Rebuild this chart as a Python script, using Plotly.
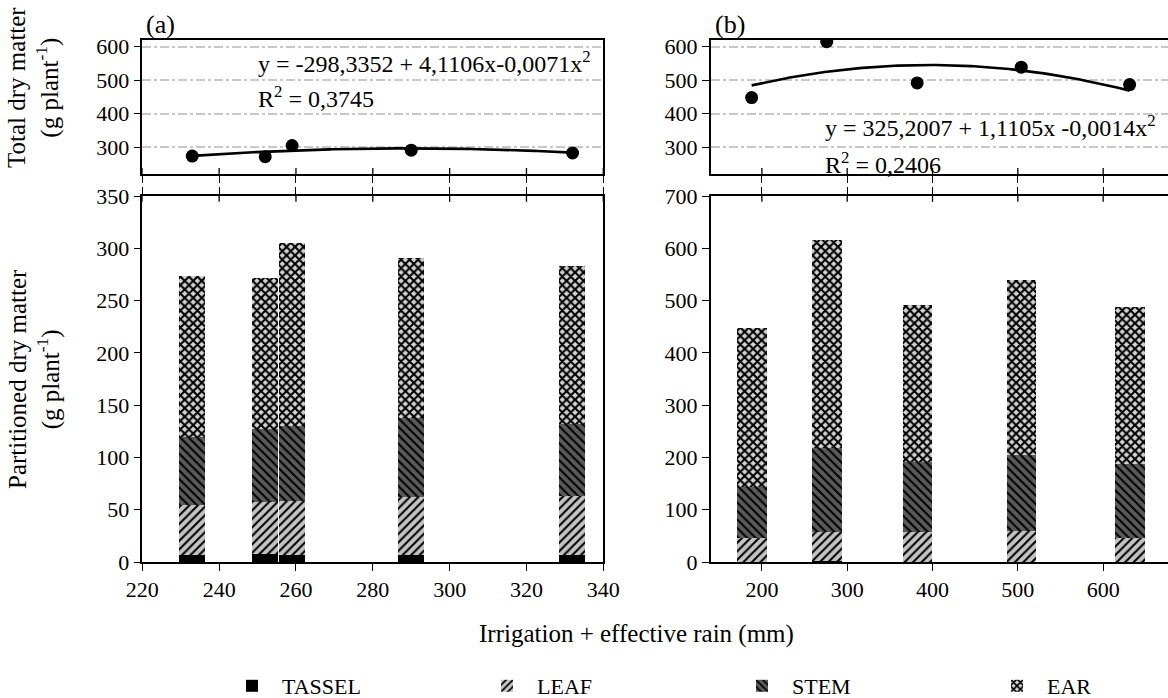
import numpy as np
import plotly.graph_objects as go

# ---------------- data ----------------
SERIES = ["TASSEL", "LEAF", "STEM", "EAR"]

# (a) panel
X_A = [233, 252, 259, 290, 332]
TASSEL_A = [6.4, 7.3, 6.4, 6.4, 6.4]
LEAF_A = [47.8, 50.1, 51.6, 55.8, 56.7]
STEM_A = [65.3, 70.1, 71.7, 75.5, 69.2]
EAR_A = [154.0, 144.1, 175.3, 153.3, 150.4]
TOTAL_A = [273.5, 271.6, 305.0, 291.0, 282.7]
COEF_A = [-298.3352, 4.1106, -0.0071]

# (b) panel
X_B = [188, 276, 382, 504, 631]
TASSEL_B = [0.0, 2.5, 0.0, 0.0, 0.0]
LEAF_B = [46.5, 54.9, 57.4, 59.3, 46.5]
STEM_B = [96.9, 161.3, 133.9, 144.7, 141.5]
EAR_B = [304.8, 396.5, 300.9, 335.3, 299.7]
TOTAL_B = [448.0, 615.0, 492.0, 539.0, 487.0]
COEF_B = [325.2007, 1.1105, -0.0014]

TICKS_A = [220, 240, 260, 280, 300, 320, 340]
TICKS_B = [200, 300, 400, 500, 600]
TOP_TICKS = [300, 400, 500, 600]

# ---------------- styles ----------------
FONT = "Liberation Serif"
W, H = 1168, 698
STYLE = {
    "TASSEL": dict(color="#000000", shape="", fg="#000000", size=6, sol=0.3),
    "LEAF": dict(color="#c4c4c4", shape="/", fg="#000000", size=6, sol=0.35),
    "STEM": dict(color="#5a5a5a", shape="\\", fg="#000000", size=6, sol=0.35),
    "EAR": dict(color="#d4d4d4", shape="x", fg="#000000", size=6, sol=0.58),
}


def px_x(p):
    return p / W


def px_y(p):
    return 1 - p / H


fig = go.Figure()

# --- stacked bars ---
comp_a = dict(zip(SERIES, [TASSEL_A, LEAF_A, STEM_A, EAR_A]))
comp_b = dict(zip(SERIES, [TASSEL_B, LEAF_B, STEM_B, EAR_B]))
for name in SERIES:
    st = STYLE[name]
    pat = dict(shape=st["shape"], fgcolor=st["fg"], bgcolor=st["color"],
               size=st["size"], solidity=st["sol"], fillmode="replace")
    fig.add_trace(go.Bar(x=X_A, y=comp_a[name], name=name, width=6.8,
                         marker=dict(color=st["color"], line=dict(width=0), pattern=pat),
                         xaxis="x3", yaxis="y3", legendgroup=name, showlegend=True))
    fig.add_trace(go.Bar(x=X_B, y=comp_b[name], name=name, width=34.5,
                         marker=dict(color=st["color"], line=dict(width=0), pattern=pat),
                         xaxis="x4", yaxis="y4", legendgroup=name, showlegend=False))

# --- totals + fitted curves ---
for xs, ys, coef, xa, ya in [(X_A, TOTAL_A, COEF_A, "x", "y"), (X_B, TOTAL_B, COEF_B, "x2", "y2")]:
    xc = np.linspace(min(xs), max(xs), 120)
    yc = coef[0] + coef[1] * xc + coef[2] * xc ** 2
    fig.add_trace(go.Scatter(x=xc, y=yc, mode="lines", line=dict(color="black", width=2.6),
                             xaxis=xa, yaxis=ya, showlegend=False, hoverinfo="skip"))
    fig.add_trace(go.Scatter(x=xs, y=ys, mode="markers", marker=dict(color="black", size=13),
                             xaxis=xa, yaxis=ya, showlegend=False))

# ---------------- layout ----------------
LX = [px_x(142.3), px_x(603.3)]
RX = [px_x(710.7), 1.0]
TOPY = [px_y(174), px_y(40)]
BOTY = [px_y(562), px_y(196)]

tickfont = dict(family=FONT, size=22, color="black")
common = dict(showline=True, linecolor="black", linewidth=1.5, ticks="outside", ticklen=7,
              tickwidth=1.3, tickcolor="black", tickfont=tickfont, zeroline=False)

gridstyle = dict(showgrid=True, gridcolor="#c8c8c8", gridwidth=1.5, griddash="dashdot")
nogrid = dict(showgrid=False)

fig.update_layout(
    width=W, height=H, margin=dict(l=0, r=0, t=0, b=0, autoexpand=False),
    paper_bgcolor="white", plot_bgcolor="white",
    barmode="stack", bargap=0,
    font=dict(family=FONT, color="black"),
    # top-left
    xaxis=dict(domain=LX, range=[220, 340], tickvals=TICKS_A, showticklabels=False,
               anchor="y", mirror=True, **common, **nogrid),
    yaxis=dict(domain=TOPY, range=[220, 620], tickvals=TOP_TICKS, anchor="x", mirror=True,
               **common, **gridstyle),
    # top-right
    xaxis2=dict(domain=RX, range=[140, 676], tickvals=TICKS_B, showticklabels=False,
                anchor="y2", mirror=True, **common, **nogrid),
    yaxis2=dict(domain=TOPY, range=[220, 620], tickvals=TOP_TICKS, anchor="x2",
                **common, **gridstyle),
    # bottom-left
    xaxis3=dict(domain=LX, range=[220, 340], tickvals=TICKS_A, anchor="y3", mirror="ticks",
                **common, **nogrid),
    yaxis3=dict(domain=BOTY, range=[0, 350], dtick=50, anchor="x3", mirror=True, **common, **nogrid),
    # bottom-right
    xaxis4=dict(domain=RX, range=[140, 676], tickvals=TICKS_B, anchor="y4", mirror="ticks",
                **common, **nogrid),
    yaxis4=dict(domain=BOTY, range=[0, 700], dtick=100, anchor="x4", **common, **nogrid),
    legend=dict(orientation="h", x=px_x(222), y=px_y(686), xanchor="left", yanchor="middle",
                font=dict(family=FONT, size=22, color="black"),
                entrywidth=190, entrywidthmode="pixels", itemwidth=50,
                bgcolor="rgba(0,0,0,0)", traceorder="normal"),
)

# inward half of the crossing ticks between the upper and lower panels
shapes = []
for xr, ytop, ybot, ticks in [("x", "y", "y3", TICKS_A), ("x2", "y2", "y4", TICKS_B)]:
    for t in ticks:
        shapes.append(dict(type="line", xref=xr, yref=f"{ytop} domain", x0=t, x1=t, y0=0, y1=0.045,
                           line=dict(color="black", width=1.3)))
        shapes.append(dict(type="line", xref=xr, yref=f"{ybot} domain", x0=t, x1=t, y0=1, y1=0.984,
                           line=dict(color="black", width=1.3)))
fig.update_layout(shapes=shapes)

ann_font = dict(family=FONT, size=24, color="black")
annotations = [
    dict(text="(a)", xref="paper", yref="paper", x=px_x(160), y=px_y(24), showarrow=False,
         xanchor="center", yanchor="middle", font=dict(family=FONT, size=26, color="black")),
    dict(text="(b)", xref="paper", yref="paper", x=px_x(730), y=px_y(24), showarrow=False,
         xanchor="center", yanchor="middle", font=dict(family=FONT, size=26, color="black")),
    dict(text="y = -298,3352 + 4,1106x-0,0071x<sup>2</sup>", xref="x", yref="y", x=249.5, y=555,
         xanchor="left", yanchor="middle", showarrow=False, font=ann_font),
    dict(text="R<sup>2</sup> = 0,3745", xref="x", yref="y", x=249.5, y=450,
         xanchor="left", yanchor="middle", showarrow=False, font=ann_font),
    dict(text="y = 325,2007 + 1,1105x -0,0014x<sup>2</sup>", xref="x2", yref="y2", x=272, y=362,
         xanchor="left", yanchor="middle", showarrow=False, font=ann_font),
    dict(text="R<sup>2</sup> = 0,2406", xref="x2", yref="y2", x=272, y=252,
         xanchor="left", yanchor="middle", showarrow=False, font=ann_font),
    dict(text="Total dry matter<br>(g plant<sup>-1</sup>)", xref="paper", yref="paper",
         x=px_x(34), y=px_y(88), textangle=-90, showarrow=False, xanchor="center", yanchor="middle",
         font=dict(family=FONT, size=25, color="black")),
    dict(text="Partitioned dry matter<br>(g plant<sup>-1</sup>)", xref="paper", yref="paper",
         x=px_x(34), y=px_y(379), textangle=-90, showarrow=False, xanchor="center", yanchor="middle",
         font=dict(family=FONT, size=25, color="black")),
    dict(text="Irrigation + effective rain (mm)", xref="paper", yref="paper",
         x=px_x(636), y=px_y(634), showarrow=False, xanchor="center", yanchor="middle",
         font=dict(family=FONT, size=25, color="black")),
]
fig.update_layout(annotations=annotations)

fig.write_html("out.html", config={"displayModeBar": False},
               post_script="document.body.style.margin='0px';")
